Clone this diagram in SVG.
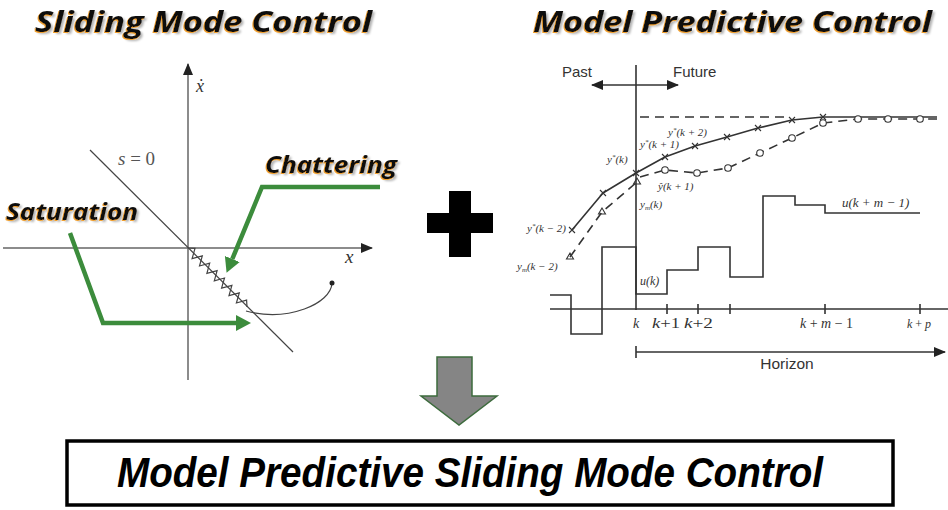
<svg xmlns="http://www.w3.org/2000/svg" width="948" height="510" viewBox="0 0 948 510">
<defs>
<style>
.title{font-family:"Open Sans","Noto Sans",sans-serif;font-weight:bold;font-style:italic;fill:#111;}
.ax{stroke:#666;stroke-width:1.5;fill:none;}
.thin{stroke:#444;stroke-width:1.2;fill:none;}
.green{stroke:#3c8c3c;stroke-width:4.5;fill:none;stroke-linejoin:miter;}
.mpc{stroke:#333;stroke-width:1.6;fill:none;}
.dash{stroke:#333;stroke-width:1.6;fill:none;stroke-dasharray:9 6;}
.sans{font-family:"Liberation Sans",Arial,sans-serif;fill:#333;}
.ser{font-family:"Liberation Serif","DejaVu Serif",serif;font-style:italic;fill:#333;}
.cross{stroke:#333;stroke-width:1.1;fill:none;}
.circ{stroke:#333;stroke-width:1.1;fill:#fff;}
</style>
<filter id="glow" x="-5%" y="-25%" width="112%" height="160%">
<feOffset in="SourceAlpha" dx="2" dy="2" result="o2"/>
<feGaussianBlur in="o2" stdDeviation="1.2" result="b2"/>
<feFlood flood-color="#000" flood-opacity="0.3"/>
<feComposite in2="b2" operator="in" result="s2"/>
<feOffset in="SourceAlpha" dx="-1.5" dy="1" result="o1"/>
<feFlood flood-color="#f0a030"/>
<feComposite in2="o1" operator="in" result="s1"/>
<feMerge><feMergeNode in="s2"/><feMergeNode in="s1"/><feMergeNode in="SourceGraphic"/></feMerge>
</filter>
<marker id="gArrow" markerUnits="userSpaceOnUse" markerWidth="16" markerHeight="18" refX="0" refY="8" orient="auto" viewBox="0 0 16 16">
<path d="M0,0 L15,8 L0,16 z" fill="#3c8c3c"/>
</marker>
<marker id="kArrow" markerUnits="userSpaceOnUse" markerWidth="12" markerHeight="10" refX="11" refY="5" orient="auto" viewBox="0 0 12 10">
<path d="M0,0 L12,5 L0,10 z" fill="#222"/>
</marker>
<marker id="kArrowStart" markerUnits="userSpaceOnUse" markerWidth="12" markerHeight="10" refX="1" refY="5" orient="auto" viewBox="0 0 12 10">
<path d="M12,0 L0,5 L12,10 z" fill="#222"/>
</marker>
</defs>
<rect width="948" height="510" fill="#fff"/>

<g id="smc">
<text class="title" x="35" y="32" font-size="29" textLength="337" lengthAdjust="spacingAndGlyphs" filter="url(#glow)">Sliding Mode Control</text>
<line class="ax" x1="188" y1="380" x2="188" y2="64" marker-end="url(#kArrow)"/>
<line class="ax" x1="3" y1="248" x2="372" y2="248" marker-end="url(#kArrow)"/>
<text class="ser" x="196" y="92" font-size="18" fill="#444">ẋ</text>
<text class="ser" x="345" y="263" font-size="19">x</text>
<line class="thin" x1="90" y1="150" x2="293" y2="352"/>
<text x="118" y="165" font-family="Liberation Serif,serif" font-size="19" fill="#555"><tspan font-style="italic">s</tspan> = 0</text>
<polyline class="thin" stroke-width="1" points="188,248 195,248.4 192.1,258.7 202.3,255.8 199.5,266 209.7,263.2 206.9,273.4 217.1,270.6 214.3,280.8 224.5,278 221.6,288.2 231.9,285.4 229,295.6 239.3,292.8 236.4,303 246.6,300.1 247,307"/>
<path class="thin" d="M332,283 C331,304 288,322 246,311"/>
<circle cx="332" cy="283" r="2.5" fill="#222"/>
</g>

<g id="chattering">
<text class="title" x="265" y="173" font-size="24" textLength="132" lengthAdjust="spacingAndGlyphs" filter="url(#glow)">Chattering</text>
</g>
<g id="saturation">
<text class="title" x="6" y="220" font-size="24" textLength="132" lengthAdjust="spacingAndGlyphs" filter="url(#glow)">Saturation</text>
</g>

<g id="plus">
<polygon points="449,191 471,191 471,213 493,213 493,233 471,233 471,257 449,257 449,233 427,233 427,213 449,213" fill="#000"/>
</g>

<g id="mpc">
<text class="title" x="533" y="32" font-size="29" textLength="399" lengthAdjust="spacingAndGlyphs" filter="url(#glow)">Model Predictive Control</text>
<text class="sans" x="562" y="77" font-size="15">Past</text>
<text class="sans" x="673" y="77" font-size="15">Future</text>
<line class="mpc" x1="592" y1="85" x2="678" y2="85" marker-start="url(#kArrowStart)" marker-end="url(#kArrow)"/>
<line class="mpc" x1="636" y1="65" x2="636" y2="310"/>
<line class="dash" x1="640" y1="117" x2="790" y2="117"/>
<path class="mpc" stroke-linejoin="round" d="M572,230 L603,193 L636,173 L665,157 L695,146 L727,137 L758,128 L792,120 L823,117 L937,117"/>
<path class="dash" d="M570,257 L602,212 L637,182"/>
<path class="dash" d="M640,177 L665,170 L697,173 L728,168 L760,153 L792,138 L823,123 L858,119 L937,119"/>
<g class="cross">
<path d="M569,227 l6,6 m0,-6 l-6,6"/>
<path d="M600,190 l6,6 m0,-6 l-6,6"/>
<path d="M633,170 l6,6 m0,-6 l-6,6"/>
<path d="M662,154 l6,6 m0,-6 l-6,6"/>
<path d="M692,143 l6,6 m0,-6 l-6,6"/>
<path d="M724,134 l6,6 m0,-6 l-6,6"/>
<path d="M755,125 l6,6 m0,-6 l-6,6"/>
<path d="M789,117 l6,6 m0,-6 l-6,6"/>
<path d="M820,114 l6,6 m0,-6 l-6,6"/>
</g>
<g class="cross">
<path d="M570,253 l-3.5,6 h7 z"/>
<path d="M602,208 l-3.5,6 h7 z"/>
<path d="M637,178 l-3.5,6 h7 z"/>
</g>
<g class="circ">
<circle cx="665" cy="170" r="3.3"/>
<circle cx="697" cy="173" r="3.3"/>
<circle cx="728" cy="168" r="3.3"/>
<circle cx="760" cy="153" r="3.3"/>
<circle cx="792" cy="138" r="3.3"/>
<circle cx="823" cy="123" r="3.3"/>
<circle cx="858" cy="119" r="3.3"/>
<circle cx="888" cy="119" r="3.3"/>
<circle cx="920" cy="119" r="3.3"/>
</g>
<g class="ser" font-size="11">
<text x="668" y="136">y<tspan dy="-4" font-size="7">*</tspan><tspan dy="4">(k + 2)</tspan></text>
<text x="640" y="148">y<tspan dy="-4" font-size="7">*</tspan><tspan dy="4">(k + 1)</tspan></text>
<text x="607" y="163">y<tspan dy="-4" font-size="7">*</tspan><tspan dy="4">(k)</tspan></text>
<text x="658" y="190">ŷ(k + 1)</text>
<text x="640" y="208">y<tspan dy="2" font-size="7">m</tspan><tspan dy="-2">(k)</tspan></text>
<text x="527" y="232">y<tspan dy="-4" font-size="7">*</tspan><tspan dy="4">(k − 2)</tspan></text>
<text x="517" y="270">y<tspan dy="2" font-size="7">m</tspan><tspan dy="-2">(k − 2)</tspan></text>
<text x="640" y="285" font-size="12">u(k)</text>
<text x="842" y="207" font-size="13">u(k + m − 1)</text>
</g>
<path class="mpc" stroke-width="2" d="M550,295 H571 V334 H602 V247 H636 V294 H667 V270 H698 V247 H730 V277 H763 V196 H795 V205 H825 V213 H920"/>
<line class="mpc" x1="550" y1="309" x2="948" y2="309"/>
<path class="mpc" d="M667,304 v10 M698,304 v10 M730,304 v10 M825,304 v10 M920,304 v10"/>
<g class="ser" font-size="14">
<text x="636" y="328" text-anchor="middle">k</text>
<text x="652" y="328" textLength="28" lengthAdjust="spacingAndGlyphs">k<tspan font-style="normal">+1</tspan></text>
<text x="684" y="328" textLength="29" lengthAdjust="spacingAndGlyphs">k<tspan font-style="normal">+2</tspan></text>
<text x="800" y="328" textLength="53" lengthAdjust="spacingAndGlyphs">k<tspan font-style="normal"> + </tspan>m<tspan font-style="normal"> − 1</tspan></text>
<text x="907" y="328" font-size="12">k<tspan font-style="normal"> + </tspan>p</text>
</g>
<line class="mpc" x1="636" y1="352" x2="945" y2="352" marker-end="url(#kArrow)"/>
<line class="mpc" x1="636" y1="346" x2="636" y2="358"/>
<text class="sans" x="787" y="369" font-size="15.5" text-anchor="middle">Horizon</text>
</g>

<g id="connectors">
<polyline class="green" points="380,187 262,187 232.3,259" marker-end="url(#gArrow)"/>
<polyline class="green" points="70,233 103,323 236,323" marker-end="url(#gArrow)"/>
<polygon points="437,357 472,357 472,396 497,396 459,425 421,396 437,396" fill="#858585" stroke="#3d6b3d" stroke-width="1.5"/>
</g>

<g id="mpsmc">
<rect x="67" y="441" width="826" height="64" fill="#fff" stroke="#000" stroke-width="3.5"/>
<text x="117" y="487" font-family="Liberation Sans,Arial,sans-serif" font-weight="bold" font-style="italic" font-size="42" textLength="706" lengthAdjust="spacingAndGlyphs" fill="#000">Model Predictive Sliding Mode Control</text>
</g>
</svg>
